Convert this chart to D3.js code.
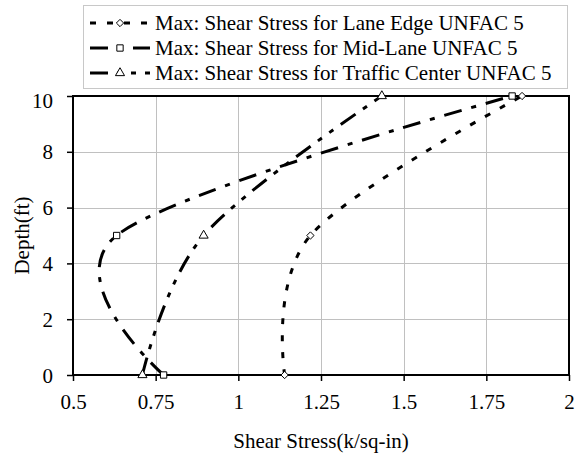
<!DOCTYPE html>
<html>
<head>
<meta charset="utf-8">
<script src="https://cdn.jsdelivr.net/npm/d3@7"></script>
<style>
  body { margin: 0; background: #fff; }
  svg { display: block; }
  svg text { font-family: "Liberation Serif", "Times New Roman", Tinos, "Nimbus Roman", "FreeSerif", "DejaVu Serif", serif !important; fill: #000; }
</style>
</head>
<body>
<svg id="chart" width="578" height="457"></svg>
<script>
// Depth below surface (ft) at which each shear stress value was taken
const depths = [0, 5, 10];
// Max shear stress (k/sq-in) per load position
const laneEdge = [1.14, 1.218, 1.858];
const midLane = [0.774, 0.632, 1.828];
const trafficCenter = [0.71, 0.895, 1.434];

const seriesNames = [
  "Max: Shear Stress for Lane Edge UNFAC 5",
  "Max: Shear Stress for Mid-Lane UNFAC 5",
  "Max: Shear Stress for Traffic Center UNFAC 5"
];
const xTicks = [0.5, 0.75, 1, 1.25, 1.5, 1.75, 2];
const yTicks = [0, 2, 4, 6, 8, 10];
const xTitle = "Shear Stress(k/sq-in)";
const yTitle = "Depth(ft)";

const diamond = d3.symbolDiamond2 || d3.symbolDiamond;
const series = [
  { name: seriesNames[0], values: laneEdge, dash: "6,11", symbol: diamond, size: d3.symbolDiamond2 ? 34 : 36 },
  { name: seriesNames[1], values: midLane, dash: "18,10,5,10", symbol: d3.symbolSquare, size: 40 },
  { name: seriesNames[2], values: trafficCenter, dash: "18,9,5,9,5,9", symbol: d3.symbolTriangle, size: 36 }
];

const FONT = '"Liberation Serif", "Times New Roman", Tinos, "Nimbus Roman", FreeSerif, "DejaVu Serif", serif';

const svg = d3.select("#chart");
const plot = { left: 73, right: 569, top: 96, bottom: 375 };

const x = d3.scaleLinear().domain([0.5, 2]).range([plot.left, plot.right]);
const y = d3.scaleLinear().domain([0, 10]).range([plot.bottom, plot.top]);

// Gridlines
const grid = svg.append("g").attr("stroke", "#c0c0c0").attr("stroke-width", 1);
grid.selectAll("line.v").data(xTicks.slice(1, -1)).join("line")
  .attr("x1", d => Math.round(x(d)) + 0.5).attr("x2", d => Math.round(x(d)) + 0.5)
  .attr("y1", plot.top).attr("y2", plot.bottom);
grid.selectAll("line.h").data(yTicks.slice(1, -1)).join("line")
  .attr("x1", plot.left).attr("x2", plot.right)
  .attr("y1", d => Math.round(y(d)) + 0.5).attr("y2", d => Math.round(y(d)) + 0.5);

// Axes
const xAxis = svg.append("g").attr("transform", `translate(0,${plot.bottom})`)
  .call(d3.axisBottom(x).tickValues(xTicks).tickSize(6).tickSizeOuter(0).tickFormat(d3.format("")));
const yAxis = svg.append("g").attr("transform", `translate(${plot.left},0)`)
  .call(d3.axisLeft(y).tickValues(yTicks).tickSize(6).tickSizeOuter(0).tickFormat(d3.format("")));

[xAxis, yAxis].forEach(a => {
  a.attr("font-family", FONT).attr("font-size", 21);
  a.select(".domain").remove();
  a.selectAll(".tick line").attr("stroke", "#000").attr("stroke-width", 1.5);
  a.selectAll(".tick text").style("font-family", FONT).style("font-size", "21px");
});
xAxis.selectAll(".tick text").attr("y", 19.5).attr("dy", "0.71em");
yAxis.selectAll(".tick text").attr("x", -20).attr("dy", "0.34em");
yAxis.selectAll(".tick").filter(d => d === 10).select("text").attr("dy", "0.55em");

// Plot area frame
svg.append("rect")
  .attr("x", plot.left).attr("y", plot.top)
  .attr("width", plot.right - plot.left).attr("height", plot.bottom - plot.top)
  .attr("fill", "none").attr("stroke", "#000").attr("stroke-width", 2);

// Series: smoothed lines with hollow markers
const line = d3.line()
  .x(d => x(d.v)).y(d => y(d.depth))
  .curve(d3.curveCardinal.tension(0));

series.forEach(s => {
  const pts = depths.map((dep, i) => ({ depth: dep, v: s.values[i] }));
  svg.append("path").datum(pts)
    .attr("d", line)
    .attr("fill", "none").attr("stroke", "#000").attr("stroke-width", 3)
    .attr("stroke-dasharray", s.dash);
  svg.append("g").selectAll("path").data(pts).join("path")
    .attr("transform", d => `translate(${x(d.v)},${y(d.depth)})`)
    .attr("d", d3.symbol(s.symbol, s.size))
    .attr("fill", "#fff").attr("stroke", "#000").attr("stroke-width", 1);
});

// Axis titles
svg.append("text")
  .attr("x", (plot.left + plot.right) / 2).attr("y", 448)
  .attr("text-anchor", "middle")
  .style("font-family", FONT).style("font-size", "21px")
  .text(xTitle);
svg.append("text")
  .attr("transform", `translate(29,${(plot.top + plot.bottom) / 2}) rotate(-90)`)
  .attr("text-anchor", "middle")
  .style("font-family", FONT).style("font-size", "21px")
  .text(yTitle);

// Legend
const legend = svg.append("g");
legend.append("rect")
  .attr("x", 83.5).attr("y", 5.5).attr("width", 484).attr("height", 83)
  .attr("fill", "#fff").attr("stroke", "#c8c8c8").attr("stroke-width", 1);
series.forEach((s, i) => {
  const cy = 23 + i * 25;
  legend.append("line")
    .attr("x1", 90).attr("x2", 150).attr("y1", cy).attr("y2", cy)
    .attr("stroke", "#000").attr("stroke-width", 3).attr("stroke-dasharray", s.dash);
  legend.append("path")
    .attr("transform", `translate(120,${cy})`)
    .attr("d", d3.symbol(s.symbol, s.size))
    .attr("fill", "#fff").attr("stroke", "#000").attr("stroke-width", 1);
  legend.append("text")
    .attr("x", 155).attr("y", cy).attr("dy", "0.34em")
    .style("font-family", FONT).style("font-size", "21px")
    .text(s.name);
});
</script>
</body>
</html>
